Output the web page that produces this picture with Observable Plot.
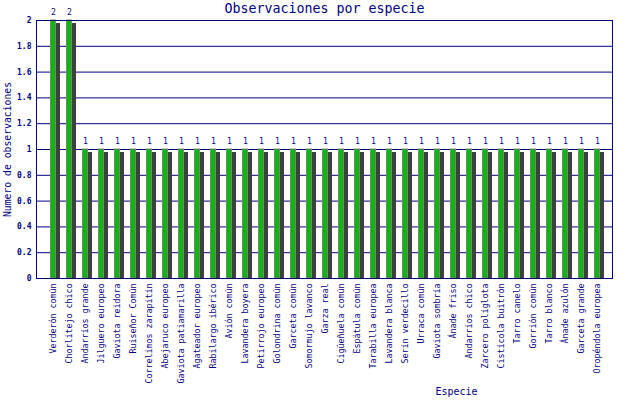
<!DOCTYPE html>
<html><head><meta charset="utf-8">
<script src="https://cdn.jsdelivr.net/npm/d3@7"></script>
<script src="https://cdn.jsdelivr.net/npm/@observablehq/plot@0.6"></script>
<style>body{margin:0;background:#fff}</style>
</head><body><div id="chart"></div>
<script>
const species = [
  "Verderón común","Chorlitejo chico","Andarríos grande","Jilguero europeo","Gaviota reidora",
  "Ruiseñor Común","Correlimos zarapitín","Abejaruco europeo","Gaviota patiamarilla","Agateador europeo",
  "Rabilargo ibérico","Avión común","Lavandera boyera","Petirrojo europeo","Golondrina común",
  "Garceta común","Somormujo lavanco","Garza real","Cigüeñuela común","Espátula común",
  "Tarabilla europea","Lavandera blanca","Serín verdecillo","Urraca común","Gaviota sombría",
  "Ánade friso","Andarríos chico","Zarcero políglota","Cistícola buitrón","Tarro canelo",
  "Gorrión común","Tarro blanco","Ánade azulón","Garceta grande","Oropéndola europea"
];
const counts = [2,2,1,1,1,1,1,1,1,1,1,1,1,1,1,1,1,1,1,1,1,1,1,1,1,1,1,1,1,1,1,1,1,1,1];
const yTicks = [0,0.2,0.4,0.6,0.8,1,1.2,1.4,1.6,1.8,2];
const title = "Observaciones por especie";
const xLabel = "Especie";
const yLabel = "Numero de observaciones";

const data = species.map((s, i) => ({species: s, count: counts[i]}));
const navy = "#000080";

const chart = Plot.plot({
  width: 640, height: 400,
  marginTop: 20, marginBottom: 122, marginLeft: 36, marginRight: 28,
  style: {fontFamily: "DejaVu Sans Mono", background: "#fff", color: navy},
  x: {domain: species, range: [45, 605], padding: 0, axis: null},
  y: {domain: [0, 2], axis: null},
  marks: [
    Plot.ruleY(yTicks, {stroke: navy}),
    Plot.barY(data, {x: "species", y: "count", fill: "#404040", insetLeft: 9, insetRight: 1, insetTop: 3}),
    Plot.barY(data, {x: "species", y: "count", fill: "#00bb00", stroke: "#808080", strokeWidth: 1, insetLeft: 5.5, insetRight: 5.5}),
    Plot.frame({stroke: navy}),
    Plot.axisX({tickSize: 0, tickRotate: -90, tickPadding: 5, fontSize: 8.3, label: null, fill: navy}),
    Plot.axisY({ticks: yTicks, tickSize: 0, tickPadding: 5, fontSize: 8, label: null, fill: navy, fontWeight: "bold", tickFormat: d => String(d)}),
    Plot.text(data, {x: "species", y: "count", text: d => String(d.count), dy: -8, fontSize: 8, fill: navy}),
    Plot.text([title], {frameAnchor: "top", dy: -12, lineAnchor: "middle", fontSize: 13.3, fill: navy}),
    Plot.text([yLabel], {frameAnchor: "left", dx: -29, textAnchor: "middle", lineAnchor: "middle", rotate: -90, fontSize: 9.75, fill: navy}),
    Plot.text([xLabel], {frameAnchor: "bottom", dx: 132, dy: 116, fontSize: 10, fill: navy})
  ]
});
document.getElementById("chart").appendChild(chart);
</script>
</body></html>
